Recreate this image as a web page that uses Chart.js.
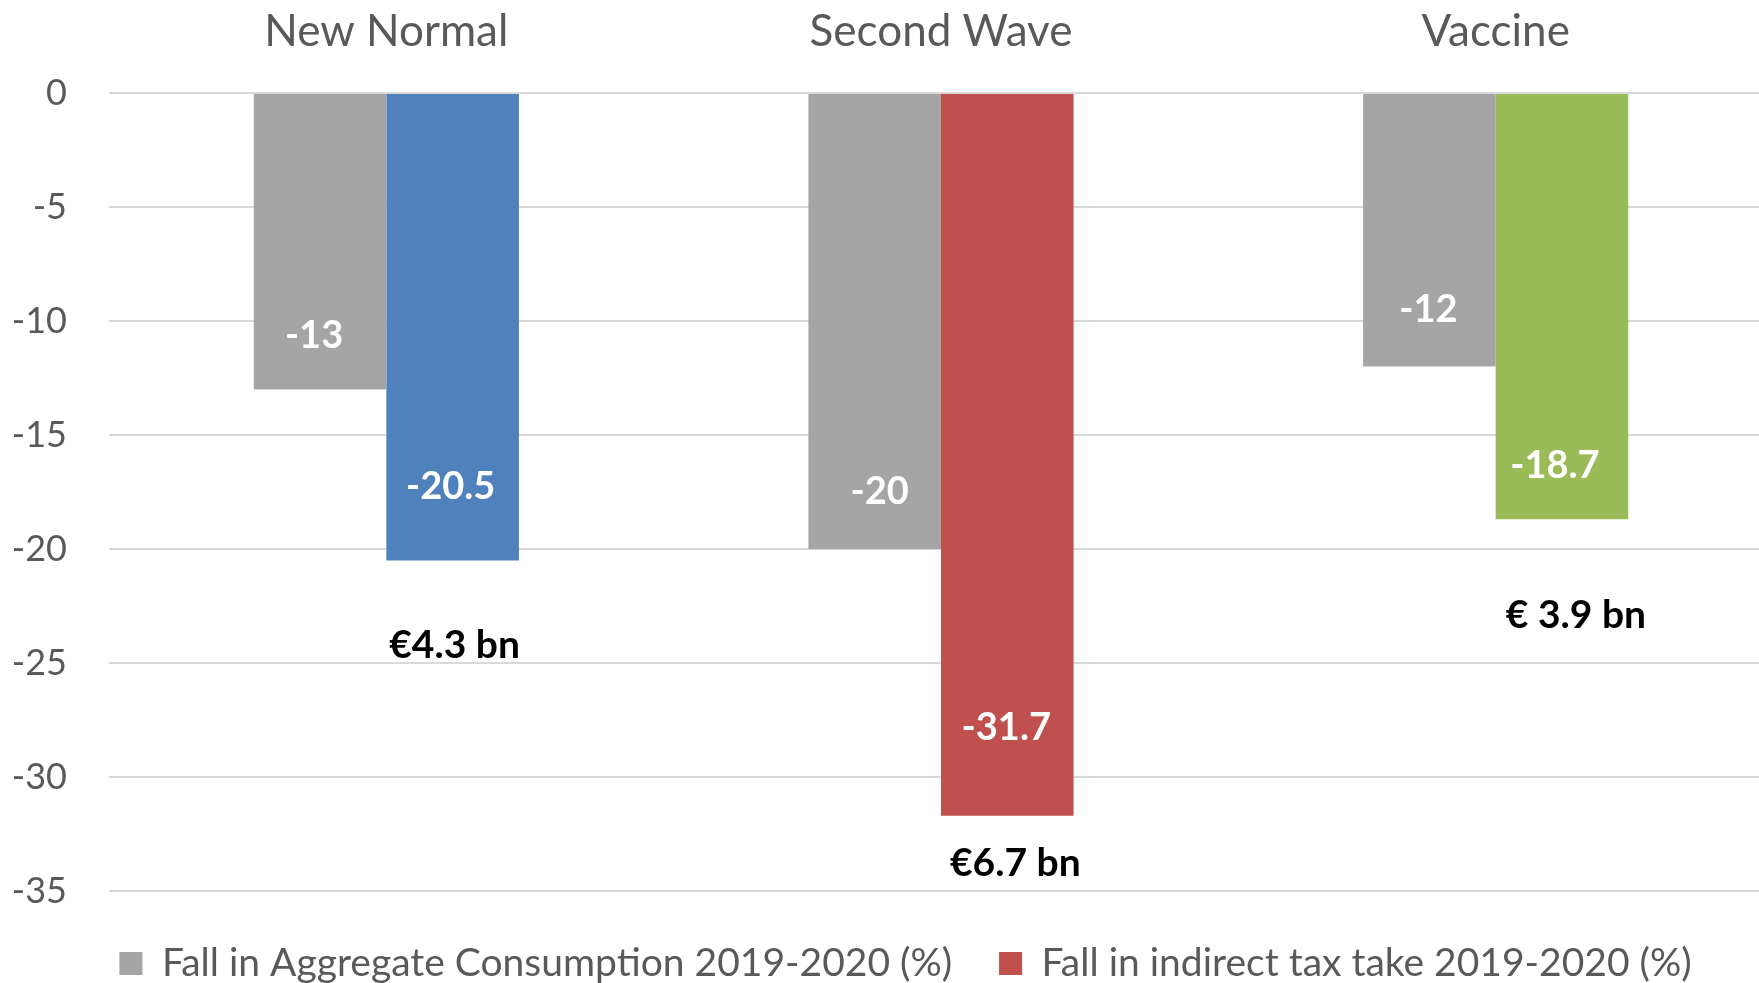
<!DOCTYPE html>
<html>
<head>
<meta charset="utf-8">
<script src="https://cdn.jsdelivr.net/npm/chart.js@4/dist/chart.umd.min.js"></script>
<style>
  html, body { margin: 0; padding: 0; background: #fff; overflow: hidden; }
  #wrap { width: 1773px; height: 993px; }
</style>
</head>
<body>
<div id="wrap"><canvas id="taxChart"></canvas></div>
<script>
// Scenarios and the two series plotted for each one
const scenarios = ["New Normal", "Second Wave", "Vaccine"];
const consumptionFall = [-13, -20, -12];
const taxFall = [-20.5, -31.7, -18.7];
const revenueLoss = ["€4.3 bn", "€6.7 bn", "€ 3.9 bn"];
const yTicks = [0, -5, -10, -15, -20, -25, -30, -35];
const seriesNames = [
  "Fall in Aggregate Consumption 2019-2020 (%)",
  "Fall in indirect tax take 2019-2020 (%)"
];

const FONT = "Lato, 'Open Sans', sans-serif";
const grey = "#A5A5A5";
const taxColors = ["#4F81BD", "#C0504D", "#9BBB59"];

// Writes the value inside each bar and the euro figure under the coloured ones
const barLabels = {
  id: "barLabels",
  afterDatasetsDraw(chart, args, opts) {
    const ctx = chart.ctx;
    ctx.save();
    ctx.textAlign = "center";
    ctx.textBaseline = "middle";
    chart.data.datasets.forEach((ds, di) => {
      const meta = chart.getDatasetMeta(di);
      meta.data.forEach((bar, i) => {
        const off = opts.valueOffsets[di][i];
        ctx.fillStyle = "#ffffff";
        ctx.font = "bold 38px " + FONT;
        ctx.fillText(String(ds.data[i]), bar.x + off[0], bar.y - off[1]);
        if (di === 1) {
          const n = opts.noteOffsets[i];
          ctx.fillStyle = "#000000";
          ctx.font = "bold 39px " + FONT;
          ctx.fillText(revenueLoss[i], bar.x + n[0], bar.y + n[1]);
        }
      });
    });
    ctx.restore();
  }
};

// Nudges the legend row a little to the right of the canvas centre
const legendShift = {
  id: "legendShift",
  afterLayout(chart, args, opts) {
    if (chart.legend) chart.legend.left += opts.dx;
  }
};

new Chart(document.getElementById("taxChart"), {
  type: "bar",
  data: {
    labels: scenarios,
    datasets: [
      {
        label: seriesNames[0],
        data: consumptionFall,
        backgroundColor: grey
      },
      {
        label: seriesNames[1],
        data: taxFall,
        backgroundColor: taxColors
      }
    ]
  },
  options: {
    responsive: true,
    maintainAspectRatio: false,
    animation: false,
    layout: { padding: { left: 10, right: 0, top: 0, bottom: 0 } },
    datasets: {
      bar: { categoryPercentage: 0.478, barPercentage: 1, borderWidth: 0 }
    },
    scales: {
      x: {
        position: "top",
        grid: { display: false, drawTicks: false },
        border: { display: false },
        ticks: { color: "#595959", font: { family: FONT, size: 44 }, padding: 35 },
        afterFit(scale) { scale.height = 93; }
      },
      y: {
        min: -35,
        max: 0,
        afterBuildTicks(scale) { scale.ticks = yTicks.map(v => ({ value: v })); },
        grid: { color: "#D9D9D9", lineWidth: 2, drawTicks: false },
        border: { display: false },
        ticks: { color: "#595959", font: { family: FONT, size: 36 }, padding: 42 },
        afterFit(scale) { scale.width = 99; }
      }
    },
    plugins: {
      tooltip: { enabled: false },
      legend: {
        position: "bottom",
        title: { display: true, text: "", padding: 0, font: { size: 5 } },
        labels: {
          color: "#595959",
          font: { family: FONT, size: 39 },
          boxWidth: 23,
          boxHeight: 23,
          padding: 47,
          generateLabels() {
            return [grey, taxColors[1]].map((c, i) => ({
              text: seriesNames[i],
              fillStyle: c,
              strokeStyle: c,
              lineWidth: 0,
              fontColor: "#595959",
              datasetIndex: i
            }));
          }
        }
      },
      legendShift: { dx: 28 },
      barLabels: {
        valueOffsets: [
          [[-6, 54], [5, 57], [-1, 57]],
          [[-2, 74], [-1, 88], [-7, 54]]
        ],
        noteOffsets: [[2, 85], [8, 48], [14, 96]]
      }
    }
  },
  plugins: [barLabels, legendShift]
});
</script>
</body>
</html>
